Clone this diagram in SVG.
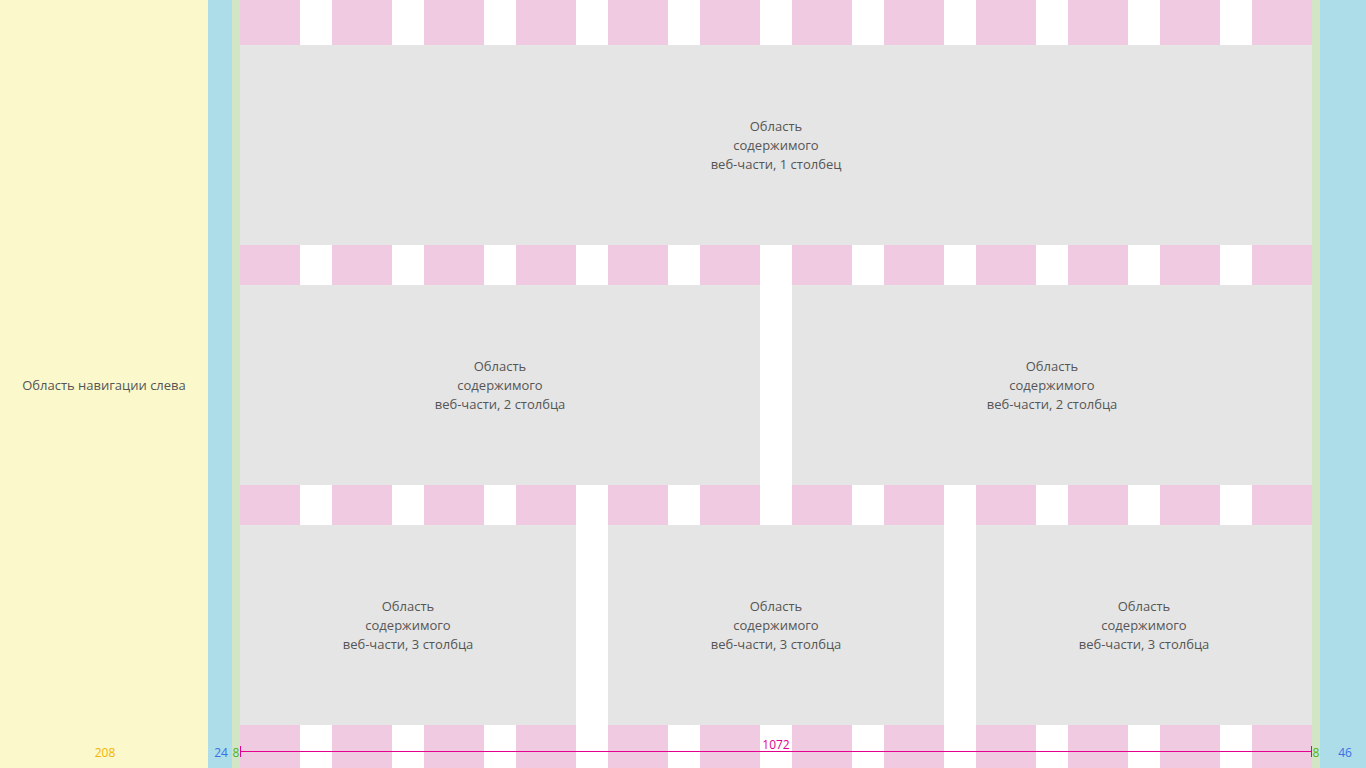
<svg xmlns="http://www.w3.org/2000/svg" width="1366" height="768" viewBox="0 0 1366 768">
<defs>
<style>
.lbl{font-family:"Open Sans","Noto Sans","Liberation Sans",sans-serif;font-size:13px;fill:#555;text-anchor:middle}
.num{font-family:"Open Sans","Liberation Sans",sans-serif;font-size:12px;text-anchor:middle}
.pink{fill:#F0CAE0}
.gray{fill:#E5E5E5}
</style>
<pattern id="cols" x="240" y="0" width="92" height="768" patternUnits="userSpaceOnUse">
<rect x="0" y="0" width="60" height="768" fill="#F0CAE0"/>
</pattern>
</defs>
<rect x="0" y="0" width="1366" height="768" fill="#fff"/>
<g id="nav">
<rect x="0" y="0" width="208" height="768" fill="#FBF8CC"/>
<text class="lbl" x="104" y="390">Область навигации слева</text>
</g>
<g id="margins">
<rect x="208" y="0" width="24" height="768" fill="#ACDDE9"/>
<rect x="232" y="0" width="8" height="768" fill="#D2E6C6"/>
<rect x="1312" y="0" width="8" height="768" fill="#D2E6C6"/>
<rect x="1320" y="0" width="46" height="768" fill="#ACDDE9"/>
</g>
<g id="columns">
<rect x="240" y="0" width="1072" height="768" fill="url(#cols)"/>
</g>
<g id="row1">
<rect class="gray" x="240" y="45" width="1072" height="200"/>
<text class="lbl" x="776" y="131">Область</text>
<text class="lbl" x="776" y="150">содержимого</text>
<text class="lbl" x="776" y="169">веб-части, 1 столбец</text>
</g>
<g id="row2a">
<rect class="gray" x="240" y="285" width="520" height="200"/>
<text class="lbl" x="500" y="371">Область</text>
<text class="lbl" x="500" y="390">содержимого</text>
<text class="lbl" x="500" y="409">веб-части, 2 столбца</text>
</g>
<g id="row2b">
<rect class="gray" x="792" y="285" width="520" height="200"/>
<text class="lbl" x="1052" y="371">Область</text>
<text class="lbl" x="1052" y="390">содержимого</text>
<text class="lbl" x="1052" y="409">веб-части, 2 столбца</text>
</g>
<g id="row3a">
<rect class="gray" x="240" y="525" width="336" height="200"/>
<text class="lbl" x="408" y="611">Область</text>
<text class="lbl" x="408" y="630">содержимого</text>
<text class="lbl" x="408" y="649">веб-части, 3 столбца</text>
</g>
<g id="row3b">
<rect class="gray" x="608" y="525" width="336" height="200"/>
<text class="lbl" x="776" y="611">Область</text>
<text class="lbl" x="776" y="630">содержимого</text>
<text class="lbl" x="776" y="649">веб-части, 3 столбца</text>
</g>
<g id="row3c">
<rect class="gray" x="976" y="525" width="336" height="200"/>
<text class="lbl" x="1144" y="611">Область</text>
<text class="lbl" x="1144" y="630">содержимого</text>
<text class="lbl" x="1144" y="649">веб-части, 3 столбца</text>
</g>
<g id="connectors">
<line x1="240" y1="751.5" x2="1312" y2="751.5" stroke="#E3008C" stroke-width="1"/>
<line x1="240.5" y1="746" x2="240.5" y2="757" stroke="#E3008C" stroke-width="1"/>
<line x1="1311.5" y1="746" x2="1311.5" y2="757" stroke="#E3008C" stroke-width="1"/>
</g>
<g id="dims">
<text class="num" x="105" y="757" fill="#F4B400">208</text>
<text class="num" x="221" y="757" fill="#3B6FE6">24</text>
<text class="num" x="236" y="757" fill="#4DB32C">8</text>
<text class="num" x="776" y="749" fill="#E3008C">1072</text>
<text class="num" x="1316" y="757" fill="#4DB32C">8</text>
<text class="num" x="1345" y="757" fill="#3B6FE6">46</text>
</g>
</svg>
